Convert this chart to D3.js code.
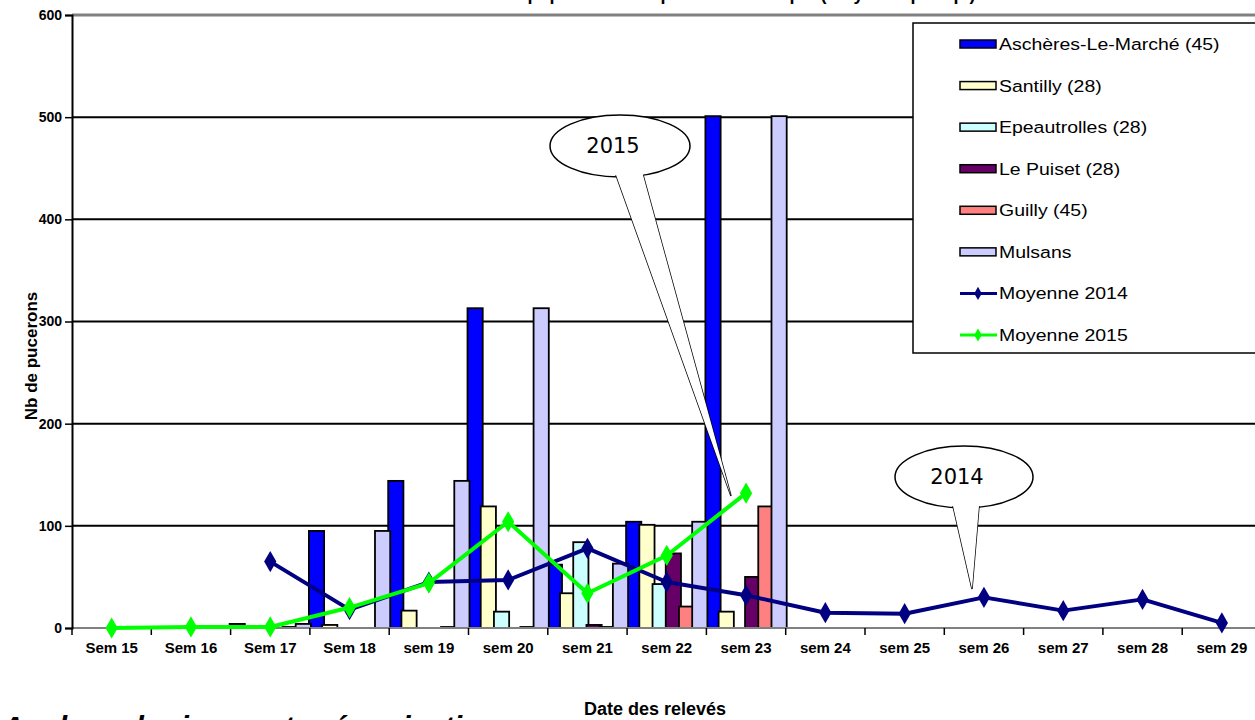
<!DOCTYPE html>
<html>
<head>
<meta charset="utf-8">
<script src="https://cdn.jsdelivr.net/npm/d3@7"></script>
<style>
  body { margin: 0; background: #fff; }
  svg { display: block; font-family: "Liberation Sans", Arial, sans-serif; }
</style>
</head>
<body>
<svg id="chart" width="1255" height="720"></svg>
<script>
// weeks on the x axis
const weeks = ["Sem 15", "Sem 16", "Sem 17", "Sem 18", "sem 19", "sem 20", "sem 21",
  "sem 22", "sem 23", "sem 24", "sem 25", "sem 26", "sem 27", "sem 28", "sem 29"];

// bar series (one value per week, 0 = no count)
const aschères = [0, 0, 4, 95, 144, 313, 62, 104, 501, 0, 0, 0, 0, 0, 0];
const santilly = [0, 0, 0, 3, 17, 119, 34, 101, 16, 0, 0, 0, 0, 0, 0];
const epeautrolles = [0, 0, 0, 0, 0, 16, 84, 43, 0, 0, 0, 0, 0, 0, 0];
const lePuiset = [0, 0, 0, 0, 0, 0, 3, 73, 50, 0, 0, 0, 0, 0, 0];
const guilly = [0, 0, 1, 0, 1, 1, 1, 21, 119, 0, 0, 0, 0, 0, 0];
const mulsans = [0, 0, 4, 95, 144, 313, 63, 104, 501, 0, 0, 0, 0, 0, 0];

// line series
const moyenne2014 = [null, null, 65, 18, 45, 47, 78, 45, 32, 15, 14, 30, 17, 28, 5];
const moyenne2015 = [0, 1, 1, 20, 44, 104, 34, 71, 132, null, null, null, null, null, null];

const yTicks = [0, 100, 200, 300, 400, 500, 600];

const barSeries = [
  { name: "Aschères-Le-Marché (45)", values: aschères, color: "#0000ff" },
  { name: "Santilly (28)", values: santilly, color: "#ffffcc" },
  { name: "Epeautrolles (28)", values: epeautrolles, color: "#ccffff" },
  { name: "Le Puiset (28)", values: lePuiset, color: "#660066" },
  { name: "Guilly (45)", values: guilly, color: "#ff8080" },
  { name: "Mulsans", values: mulsans, color: "#ccccff" },
];
const lineSeries = [
  { name: "Moyenne 2014", values: moyenne2014, color: "#000080" },
  { name: "Moyenne 2015", values: moyenne2015, color: "#00ff00" },
];

const svg = d3.select("#chart");
const plotLeft = 72, plotTop = 15, plotBottom = 628, band = 79.3;

const x = d3.scaleBand().domain(weeks).range([plotLeft, plotLeft + band * weeks.length]);
const y = d3.scaleLinear().domain([0, 600]).range([plotBottom, plotTop]);
const sub = d3.scaleBand().domain(d3.range(barSeries.length)).range([0, x.bandwidth()]);

// title (mostly above the visible area)
svg.append("text")
  .attr("x", 690).attr("y", 0)
  .attr("text-anchor", "middle")
  .style("font-weight", "bold").style("font-size", "18px")
  .text("Evolution des populations de pucerons sur épis (moyenne par épi)");

// gridlines
svg.append("g")
  .selectAll("line")
  .data(yTicks.filter((d) => d > 0 && d < 600))
  .enter()
  .append("line")
  .attr("x1", plotLeft).attr("x2", 1255)
  .attr("y1", (d) => y(d)).attr("y2", (d) => y(d))
  .attr("stroke", "#000").attr("stroke-width", 2);

// top border
svg.append("line")
  .attr("x1", plotLeft).attr("x2", 1255)
  .attr("y1", y(600)).attr("y2", y(600))
  .attr("stroke", "#808080").attr("stroke-width", 3);

// bars
barSeries.forEach((s, i) => {
  svg.append("g")
    .selectAll("rect")
    .data(weeks.map((w, k) => ({ w: w, v: s.values[k] })).filter((d) => d.v > 0))
    .enter()
    .append("rect")
    .attr("x", (d) => x(d.w) + sub(i) - 1)
    .attr("width", sub.bandwidth() + 2)
    .attr("y", (d) => y(d.v))
    .attr("height", (d) => plotBottom - y(d.v))
    .attr("fill", s.color)
    .attr("stroke", "#000")
    .attr("stroke-width", 1.8);
});

// x axis
svg.append("line")
  .attr("x1", plotLeft).attr("x2", 1255)
  .attr("y1", plotBottom).attr("y2", plotBottom)
  .attr("stroke", "#808080").attr("stroke-width", 2);

const xAxis = svg.append("g")
  .attr("transform", "translate(0," + plotBottom + ")")
  .call(d3.axisBottom(x).tickSize(0).tickPadding(14));
xAxis.select(".domain").remove();
xAxis.selectAll("text")
  .style("font-family", "'Liberation Sans', Arial, sans-serif")
  .style("font-size", "15px").style("font-weight", "bold").attr("fill", "#000");

svg.append("g")
  .selectAll("line")
  .data(weeks)
  .enter()
  .append("line")
  .attr("x1", (d) => x(d)).attr("x2", (d) => x(d))
  .attr("y1", plotBottom).attr("y2", plotBottom + 7)
  .attr("stroke", "#000").attr("stroke-width", 1.5);

// y axis
const yAxis = svg.append("g")
  .attr("transform", "translate(" + plotLeft + ",0)")
  .call(d3.axisLeft(y).tickValues(yTicks).tickSize(7).tickPadding(3));
yAxis.select(".domain").attr("stroke", "#000").attr("stroke-width", 2);
yAxis.selectAll(".tick line").attr("stroke", "#000").attr("stroke-width", 1.5);
yAxis.selectAll("text")
  .style("font-family", "'Liberation Sans', Arial, sans-serif")
  .style("font-size", "14px").style("font-weight", "bold").attr("fill", "#000");

// axis titles
svg.append("text")
  .attr("transform", "translate(37,356) rotate(-90)")
  .attr("text-anchor", "middle")
  .style("font-weight", "bold").style("font-size", "17px")
  .text("Nb de pucerons");

svg.append("text")
  .attr("x", 655).attr("y", 715)
  .attr("text-anchor", "middle")
  .style("font-weight", "bold").style("font-size", "18px")
  .text("Date des relevés");

// section heading below the chart (only its top shows)
svg.append("text")
  .attr("x", 2).attr("y", 737)
  .style("font-weight", "bold").style("font-style", "italic").style("font-size", "30px")
  .text("Analyse de risque et préconisations");

// lines
const diamond = d3.symbol().type(d3.symbolDiamond);
lineSeries.forEach((s) => {
  const pts = weeks.map((w, k) => ({ w: w, v: s.values[k] })).filter((d) => d.v !== null);
  svg.append("path")
    .datum(pts)
    .attr("fill", "none")
    .attr("stroke", s.color)
    .attr("stroke-width", 4)
    .attr("stroke-linejoin", "round")
    .attr("d", d3.line().x((d) => x(d.w) + x.bandwidth() / 2).y((d) => y(d.v)));
  svg.append("g")
    .selectAll("path")
    .data(pts)
    .enter()
    .append("path")
    .attr("transform", (d) => "translate(" + (x(d.w) + x.bandwidth() / 2) + "," + y(d.v) + ")")
    .attr("d", diamond.size(130))
    .attr("fill", s.color);
});

// callouts
function callout(cx, cy, rx, ry, tail, label) {
  const g = svg.append("g");
  g.append("ellipse")
    .attr("cx", cx).attr("cy", cy).attr("rx", rx).attr("ry", ry)
    .attr("fill", "#fff").attr("stroke", "#000").attr("stroke-width", 1.5);
  g.append("path")
    .attr("d", "M" + tail[0] + "L" + tail[1] + "L" + tail[2])
    .attr("fill", "#fff").attr("stroke", "#000").attr("stroke-width", 1.5);
  g.append("path")
    .attr("d", "M" + [tail[0][0] - 2, tail[0][1] - 4] + "L" + [tail[2][0] + 2, tail[2][1] - 4] +
      "L" + tail[2] + "L" + tail[1] + "L" + tail[0] + "Z")
    .attr("fill", "#fff");
  g.append("text")
    .attr("x", cx - 7).attr("y", cy + 7)
    .attr("text-anchor", "middle")
    .style("font-family", "'DejaVu Sans', Verdana, sans-serif")
    .style("font-size", "21px")
    .text(label);
}
callout(620, 146, 70, 31, [[616, 175], [731, 496], [643, 175]], "2015");
callout(964, 477, 69, 31, [[953, 506], [972, 589], [979, 506]], "2014");

// legend
const legend = svg.append("g");
legend.append("rect")
  .attr("x", 913).attr("y", 23).attr("width", 360).attr("height", 330)
  .attr("fill", "#fff").attr("stroke", "#000").attr("stroke-width", 1.5);

const rowY = d3.scalePoint()
  .domain(barSeries.concat(lineSeries).map((s) => s.name))
  .range([44, 335]);

barSeries.forEach((s) => {
  legend.append("rect")
    .attr("x", 960).attr("y", rowY(s.name) - 4).attr("width", 36).attr("height", 8)
    .attr("fill", s.color).attr("stroke", "#000").attr("stroke-width", 1.5);
});
lineSeries.forEach((s) => {
  legend.append("line")
    .attr("x1", 960).attr("x2", 997)
    .attr("y1", rowY(s.name)).attr("y2", rowY(s.name))
    .attr("stroke", s.color).attr("stroke-width", 3);
  legend.append("path")
    .attr("transform", "translate(978," + rowY(s.name) + ")")
    .attr("d", diamond.size(50))
    .attr("fill", s.color);
});
legend.selectAll("text.lg")
  .data(barSeries.concat(lineSeries))
  .enter()
  .append("text")
  .attr("class", "lg")
  .attr("transform", (d) => "translate(999," + (rowY(d.name) + 6) + ") scale(1.18,1)")
  .style("font-size", "16.5px")
  .text((d) => d.name);
</script>
</body>
</html>
